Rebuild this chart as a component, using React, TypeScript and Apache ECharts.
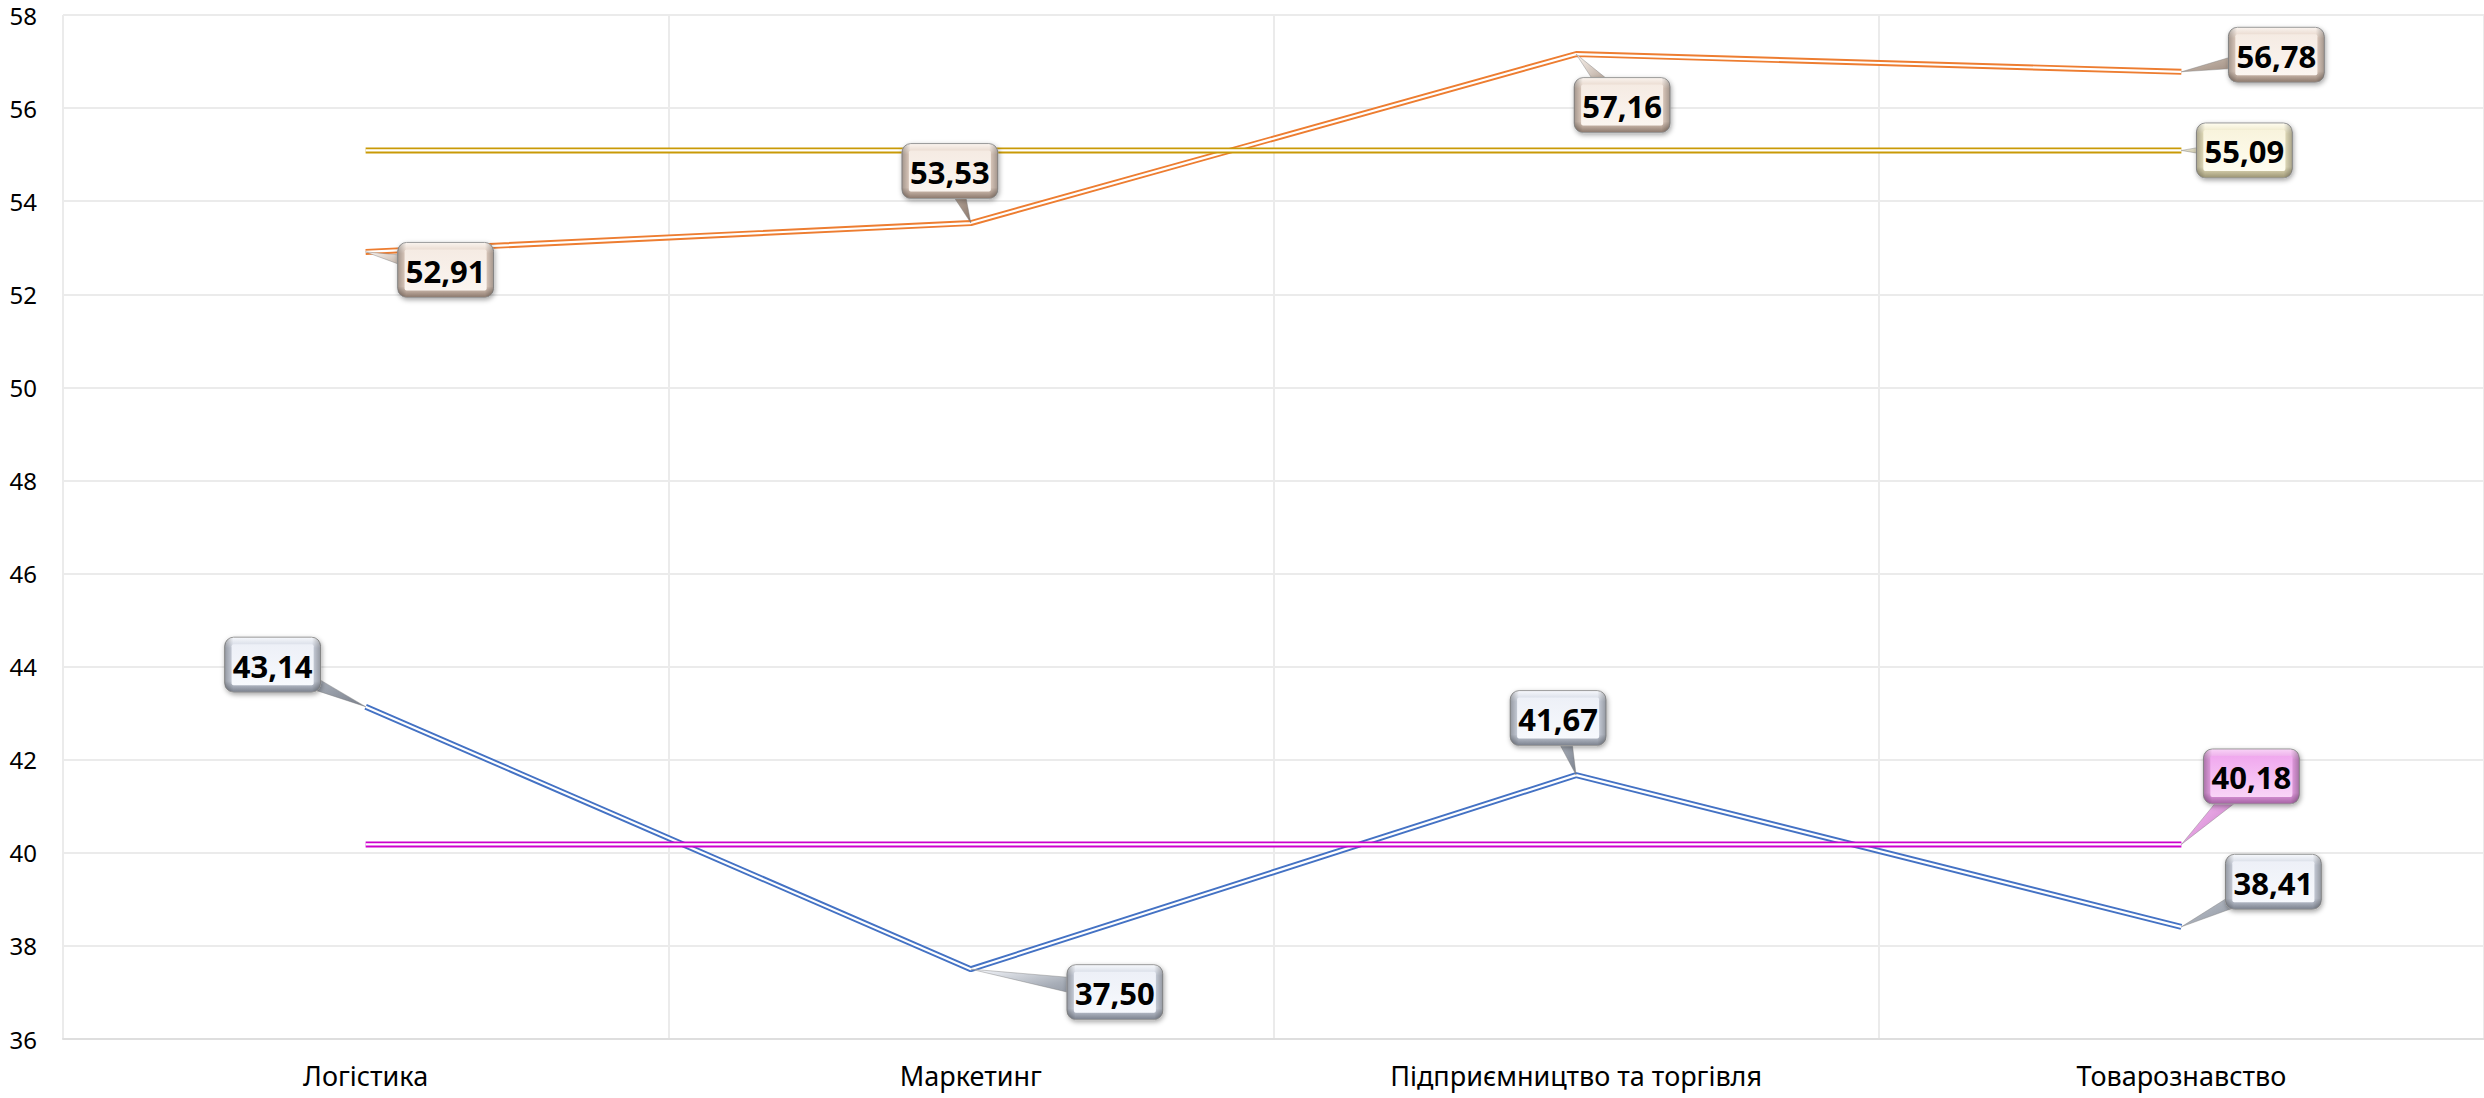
import React, { useEffect, useRef } from "react";
import * as echarts from "echarts";

const categories = ["Логістика", "Маркетинг", "Підприємництво та торгівля", "Товарознавство"];
const orangeValues = [52.91, 53.53, 57.16, 56.78];
const blueValues = [43.14, 37.5, 41.67, 38.41];
const orangeAverage = [55.09, 55.09, 55.09, 55.09];
const blueAverage = [40.18, 40.18, 40.18, 40.18];
const yTicks = { min: 36, max: 58, interval: 2 };

// label callout offsets (layout only), px relative to the data point
const orangeOffsets = [[80, 18], [-21, -52], [46, 51], [95, -17]];
const blueOffsets = [[-93, -42], [144, 23], [-18, -57], [92, -45]];
const orangeAvgOffsets = [null, null, null, [63, 0]];
const blueAvgOffsets = [null, null, null, [70, -68]];

const fmt = (v: number) => v.toFixed(2).replace(".", ",");

type Palette = { light: string; mid: string; dark: string; inner: string; wedge: string };

const orangePal: Palette = { light: "#FBF5F0", mid: "#E2CFC2", dark: "#8A776B", inner: "#F5EBE3", wedge: "#B8A89C" };
const bluePal: Palette = { light: "#F7F9FD", mid: "#CDD3DF", dark: "#7A808C", inner: "#EDF0F7", wedge: "#A8AEB8" };
const goldPal: Palette = { light: "#FFFDF0", mid: "#EAE3C0", dark: "#9A9372", inner: "#F8F3DC", wedge: "#C8C2A4" };
const pinkPal: Palette = { light: "#F9D4F7", mid: "#E9A0E6", dark: "#A462A2", inner: "#F0A8EE", wedge: "#E3A0E0" };

function calloutSeries(name: string, values: number[], offsets: (number[] | null)[], pal: Palette) {
  const data = values
    .map((v, i) => (offsets[i] ? [i, v, i] : null))
    .filter((d) => d !== null);
  return {
    name: name + "-labels",
    type: "custom",
    coordinateSystem: "cartesian2d",
    z: 10,
    silent: true,
    data,
    renderItem: (params: any, api: any) => {
      const idx = api.value(0);
      const v = api.value(1);
      const oi = api.value(2);
      const [px, py] = api.coord([idx, v]);
      const off = offsets[oi] as number[];
      const cx = px + off[0];
      const cy = py + off[1];
      const w = 96;
      const h = 55;
      const dx = cx - px;
      const dy = cy - py;
      const len = Math.hypot(dx, dy) || 1;
      const nx = -dy / len;
      const ny = dx / len;
      const bw = 11;
      return {
        type: "group",
        children: [
          {
            type: "polygon",
            shape: { points: [[px, py], [cx + nx * bw, cy + ny * bw], [cx - nx * bw, cy - ny * bw]] },
            style: {
              fill: new echarts.graphic.LinearGradient(0, 0, 1, 1, [
                { offset: 0, color: pal.light },
                { offset: 0.5, color: pal.wedge },
                { offset: 1, color: pal.dark },
              ]),
              stroke: "rgba(120,120,120,0.5)",
              lineWidth: 0.8,
            },
          },
          {
            type: "rect",
            shape: { x: cx - w / 2, y: cy - h / 2, width: w, height: h, r: 9 },
            style: {
              fill: new echarts.graphic.LinearGradient(0, 0, 0, 1, [
                { offset: 0, color: pal.light },
                { offset: 0.2, color: pal.mid },
                { offset: 0.8, color: pal.mid },
                { offset: 1, color: pal.dark },
              ]),
              stroke: "#9a9a9a",
              lineWidth: 1,
              shadowBlur: 5,
              shadowColor: "rgba(0,0,0,0.35)",
              shadowOffsetY: 2,
              shadowOffsetX: 1,
            },
          },
          {
            type: "rect",
            shape: { x: cx - w / 2, y: cy - h / 2, width: w, height: h, r: 9 },
            style: {
              fill: new echarts.graphic.LinearGradient(0, 0, 1, 0, [
                { offset: 0, color: "rgba(0,0,0,0.28)" },
                { offset: 0.09, color: "rgba(0,0,0,0)" },
                { offset: 0.91, color: "rgba(0,0,0,0)" },
                { offset: 1, color: "rgba(0,0,0,0.28)" },
              ]),
            },
          },
          {
            type: "rect",
            shape: { x: cx - w / 2 + 7, y: cy - h / 2 + 7, width: w - 14, height: h - 14, r: 2 },
            style: {
              fill: new echarts.graphic.LinearGradient(0, 0, 0, 1, [
                { offset: 0, color: pal.inner },
                { offset: 1, color: pal.light },
              ]),
            },
          },
          {
            type: "text",
            style: {
              text: fmt(v),
              x: cx,
              y: cy + 1,
              align: "center",
              verticalAlign: "middle",
              fontFamily: "Noto Sans",
              fontWeight: "bold",
              fontSize: 31,
              fill: "#000",
            },
          },
        ],
      };
    },
  };
}

function doubleLine(name: string, values: number[], color: string, z: number) {
  return [
    {
      name,
      type: "line",
      data: values,
      symbol: "none",
      z,
      silent: true,
      lineStyle: { color, width: 6 },
    },
    {
      name: name + "-inner",
      type: "line",
      data: values,
      symbol: "none",
      z,
      silent: true,
      lineStyle: { color: "#ffffff", width: 2.2 },
    },
  ];
}

export default function App() {
  const ref = useRef<HTMLDivElement>(null);
  useEffect(() => {
    document.body.style.margin = "0";
    if (!ref.current) return;
    const chart = echarts.init(ref.current, null, { renderer: "svg" });
    chart.setOption({
      animation: false,
      backgroundColor: "#ffffff",
      grid: { left: 63, right: 0, top: 15, bottom: 59, containLabel: false },
      xAxis: {
        type: "category",
        data: categories,
        boundaryGap: true,
        axisLine: { show: true, lineStyle: { color: "#DEDEDE", width: 2 } },
        axisTick: { show: false },
        splitLine: { show: true, lineStyle: { color: "#EBEBEB", width: 2 } },
        axisLabel: { color: "#000", fontFamily: "Noto Sans", fontSize: 27, margin: 23, interval: 0 },
      },
      yAxis: {
        type: "value",
        min: yTicks.min,
        max: yTicks.max,
        interval: yTicks.interval,
        axisLine: { show: false },
        axisTick: { show: false },
        splitLine: { show: true, lineStyle: { color: "#EBEBEB", width: 2 } },
        axisLabel: { color: "#000", fontFamily: "Noto Sans", fontSize: 24, margin: 26 },
      },
      series: [
        ...doubleLine("orange", orangeValues, "#ED7D31", 2),
        ...doubleLine("blue", blueValues, "#4472C4", 2),
        ...doubleLine("orangeAvg", orangeAverage, "#C99A06", 3),
        ...doubleLine("blueAvg", blueAverage, "#CC00CC", 3),
        calloutSeries("orange", orangeValues, orangeOffsets, orangePal),
        calloutSeries("blue", blueValues, blueOffsets, bluePal),
        calloutSeries("orangeAvg", orangeAverage, orangeAvgOffsets, goldPal),
        calloutSeries("blueAvg", blueAverage, blueAvgOffsets, pinkPal),
      ],
    });
    return () => chart.dispose();
  }, []);
  return <div ref={ref} style={{ width: 2484, height: 1098 }} />;
}
